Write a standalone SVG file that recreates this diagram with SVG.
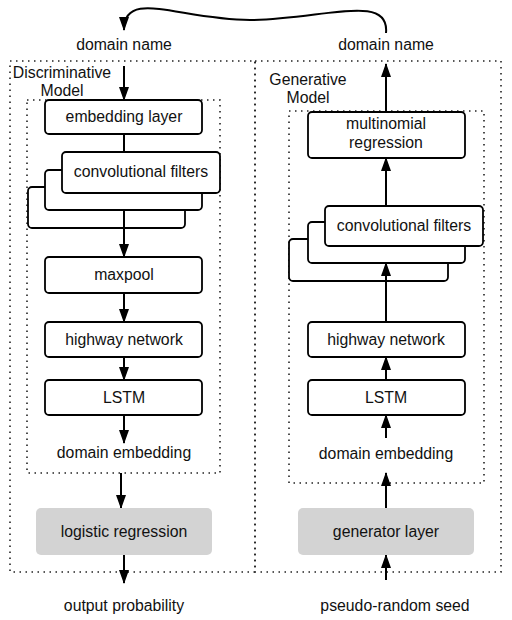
<svg xmlns="http://www.w3.org/2000/svg" width="512" height="620" viewBox="0 0 512 620">
<defs>
<style>
text{font-family:"Liberation Sans",Arial,sans-serif;font-size:15.8px;fill:#111;text-anchor:middle}
.dot{fill:none;stroke:#222;stroke-width:1.6;stroke-dasharray:1.5 4.5}
.box{fill:#fff;stroke:#000;stroke-width:1.8}
.grey{fill:#d3d3d3;stroke:none}
.ln{fill:none;stroke:#000;stroke-width:2}
.arr{fill:none;stroke:#000;stroke-width:2;marker-end:url(#ah)}
</style>
<marker id="ah" viewBox="0 0 14 10" refX="13" refY="5" markerWidth="14" markerHeight="10" markerUnits="userSpaceOnUse" orient="auto">
<path d="M0,0 L14,5 L0,10 z" fill="#000"/>
</marker>
</defs>
<rect width="512" height="620" fill="#fff"/>

<g id="containers">
<rect class="dot" x="10" y="61" width="245" height="511"/>
<rect class="dot" x="255" y="61" width="246" height="511"/>
<rect class="dot" x="27" y="100" width="193" height="373"/>
<rect class="dot" x="289" y="111" width="195" height="372"/>
<text x="62" y="78">Discriminative</text>
<text x="62" y="96">Model</text>
<text x="308" y="85">Generative</text>
<text x="308" y="103">Model</text>
</g>

<g id="labels">
<text x="124" y="50">domain name</text>
<text x="386" y="50">domain name</text>
<text x="124" y="458">domain embedding</text>
<text x="386" y="459">domain embedding</text>
<text x="124" y="611">output probability</text>
<text x="395" y="611">pseudo-random seed</text>
</g>

<g id="connectors">
<path class="arr" d="M386,33 C390,-8 320,20 250,20 C180,20 124,-12 124,30"/>
<line class="arr" x1="124" y1="66" x2="124" y2="100"/>
<line class="ln" x1="124" y1="134" x2="124" y2="152"/>
<line class="arr" x1="124" y1="210" x2="124" y2="257"/>
<line class="arr" x1="124" y1="293" x2="124" y2="322"/>
<line class="arr" x1="124" y1="357" x2="124" y2="380"/>
<line class="arr" x1="124" y1="415" x2="124" y2="443"/>
<line class="arr" x1="121" y1="473" x2="121" y2="508"/>
<line class="arr" x1="124" y1="555" x2="124" y2="583"/>
<line class="arr" x1="386" y1="111" x2="386" y2="64"/>
<line class="arr" x1="386" y1="206" x2="386" y2="158"/>
<line class="arr" x1="386" y1="322" x2="386" y2="263"/>
<line class="arr" x1="386" y1="380" x2="386" y2="357"/>
<line class="arr" x1="386" y1="438" x2="386" y2="415"/>
<line class="arr" x1="386" y1="508" x2="386" y2="473"/>
<line class="arr" x1="386" y1="580" x2="386" y2="555"/>
</g>

<g id="embedding-layer">
<rect class="box" x="45" y="100" width="157" height="34" rx="4"/>
<text x="124" y="122">embedding layer</text>
</g>
<g id="conv-left">
<rect class="box" x="28" y="187" width="157" height="41" rx="4"/>
<rect class="box" x="45" y="170" width="157" height="40" rx="4"/>
<rect class="box" x="62" y="152" width="158" height="41" rx="4"/>
<text x="141" y="177">convolutional filters</text>
</g>
<line class="ln" x1="124" y1="210" x2="124" y2="228"/>
<g id="maxpool">
<rect class="box" x="45" y="257" width="157" height="36" rx="4"/>
<text x="124" y="280">maxpool</text>
</g>
<g id="highway-left">
<rect class="box" x="45" y="322" width="157" height="35" rx="4"/>
<text x="124" y="345">highway network</text>
</g>
<g id="lstm-left">
<rect class="box" x="45" y="380" width="157" height="35" rx="4"/>
<text x="124" y="403">LSTM</text>
</g>
<g id="logistic-regression">
<rect class="grey" x="36" y="508" width="176" height="47" rx="5"/>
<text x="124" y="537">logistic regression</text>
</g>

<g id="multinomial-regression">
<rect class="box" x="308" y="112" width="157" height="46" rx="4"/>
<text x="386" y="129">multinomial</text>
<text x="386" y="148">regression</text>
</g>
<g id="conv-right">
<rect class="box" x="289" y="239" width="159" height="42" rx="4"/>
<rect class="box" x="308" y="222" width="157" height="41" rx="4"/>
<rect class="box" x="325" y="206" width="158" height="40" rx="4"/>
<text x="404" y="231">convolutional filters</text>
</g>
<line class="arr" x1="386" y1="281" x2="386" y2="263"/>
<g id="highway-right">
<rect class="box" x="308" y="322" width="157" height="35" rx="4"/>
<text x="386" y="345">highway network</text>
</g>
<g id="lstm-right">
<rect class="box" x="308" y="380" width="157" height="35" rx="4"/>
<text x="386" y="403">LSTM</text>
</g>
<g id="generator-layer">
<rect class="grey" x="298" y="508" width="176" height="47" rx="5"/>
<text x="386" y="537">generator layer</text>
</g>
</svg>
